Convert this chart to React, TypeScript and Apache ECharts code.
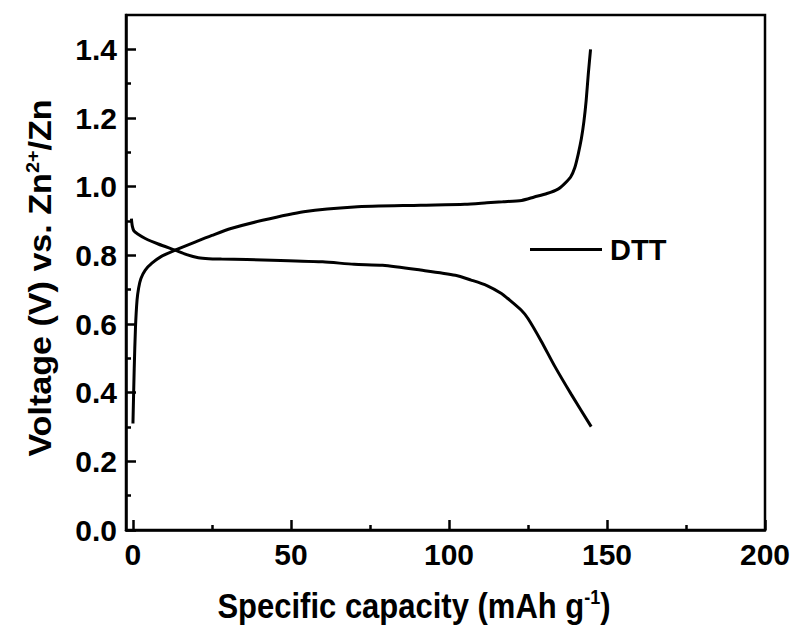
import React, { useEffect, useRef } from 'react';
import * as echarts from 'echarts';

// ---- data ----
const seriesName = 'DTT';

// charge curve: capacity (mAh g-1) and voltage (V)
const chargeCapacity = [0.0, 0.4, 0.8, 1.3, 1.8, 2.5, 3.9, 6, 9, 13.3, 20, 25, 31, 41, 54, 70, 91, 105, 112, 117, 123, 127, 131, 134.5, 136.6, 138.5, 139.8, 140.9, 141.9, 142.7, 143.4, 144.1, 144.8];
const chargeVoltage = [0.31, 0.47, 0.59, 0.67, 0.705, 0.732, 0.757, 0.777, 0.797, 0.815, 0.84, 0.858, 0.878, 0.902, 0.927, 0.941, 0.946, 0.949, 0.953, 0.956, 0.96, 0.97, 0.98, 0.993, 1.009, 1.028, 1.055, 1.095, 1.14, 1.19, 1.25, 1.33, 1.4];

// discharge curve
const dischargeCapacity = [-0.5, -0.2, 0.3, 1.5, 3.9, 8, 13.3, 17, 20.7, 24, 28, 44, 60, 70, 79, 91, 102, 107, 112, 116.6, 118.5, 122.9, 125, 129.2, 133.4, 138.7, 145];
const dischargeVoltage = [0.907, 0.885, 0.871, 0.862, 0.849, 0.833, 0.815, 0.802, 0.793, 0.79, 0.789, 0.786, 0.781, 0.774, 0.771, 0.757, 0.742, 0.728, 0.712, 0.689, 0.675, 0.64, 0.616, 0.55, 0.478, 0.395, 0.301];

const xTickValues = [0, 50, 100, 150, 200];
const xMinorTickValues = [25, 75, 125, 175];
const yTickValues = [0, 0.2, 0.4, 0.6, 0.8, 1.0, 1.2, 1.4];
const yMinorTickValues = [0.1, 0.3, 0.5, 0.7, 0.9, 1.1, 1.3];

const xTitle = '{a|Specific capacity (mAh g}{s|-1}{a|)}';
const yTitle = '{a|Voltage (V) vs. Zn}{s|2+}{a|/Zn}';

const FONT = '"Liberation Sans", Arial, Helvetica, sans-serif';

export default function App() {
  const ref = useRef<HTMLDivElement>(null);

  useEffect(() => {
    if (!ref.current) return;
    const chart = echarts.init(ref.current, undefined, { renderer: 'svg' });

    const axisLineStyle = { color: '#000', width: 2.5 };
    const labelStyle = { fontSize: 30, fontWeight: 'bold' as const, color: '#000', fontFamily: FONT };

    const richTitle = {
      a: { fontSize: 31, fontWeight: 'bold', fontFamily: FONT, fill: '#000', color: '#000' },
      s: { fontSize: 18, fontWeight: 'bold', fontFamily: FONT, fill: '#000', color: '#000', padding: [0, 0, 16, 0] },
    };

    chart.setOption({
      animation: false,
      backgroundColor: '#fff',
      grid: {
        left: 126,
        right: 32,
        top: 15,
        bottom: 100,
        show: true,
        borderColor: '#000',
        borderWidth: 2.5,
        backgroundColor: 'transparent',
      },
      legend: {
        data: [seriesName],
        left: 530,
        top: 235,
        padding: 0,
        icon: 'rect',
        itemWidth: 72,
        itemHeight: 3,
        textStyle: { fontSize: 29, fontWeight: 'bold', color: '#000', fontFamily: FONT, padding: [0, 0, 0, 3] },
      },
      xAxis: [
        {
          type: 'value',
          min: -2.2,
          max: 200,
          position: 'bottom',
          axisLine: { show: true, onZero: false, lineStyle: axisLineStyle },
          axisTick: { show: true, inside: true, length: 10, customValues: xTickValues, lineStyle: axisLineStyle },
          axisLabel: { ...labelStyle, margin: 9, customValues: xTickValues, formatter: (v: number) => String(v) },
          splitLine: { show: false },
        },
        {
          type: 'value',
          min: -2.2,
          max: 200,
          position: 'bottom',
          axisLine: { show: false, onZero: false },
          axisTick: { show: true, inside: true, length: 5, customValues: xMinorTickValues, lineStyle: axisLineStyle },
          axisLabel: { show: false },
          splitLine: { show: false },
        },
      ],
      yAxis: [
        {
          type: 'value',
          min: 0,
          max: 1.5,
          position: 'left',
          axisLine: { show: true, onZero: false, lineStyle: axisLineStyle },
          axisTick: { show: true, inside: true, length: 10, customValues: yTickValues, lineStyle: axisLineStyle },
          axisLabel: { ...labelStyle, margin: 9, customValues: yTickValues, formatter: (v: number) => v.toFixed(1) },
          splitLine: { show: false },
        },
        {
          type: 'value',
          min: 0,
          max: 1.5,
          position: 'left',
          axisLine: { show: false, onZero: false },
          axisTick: { show: true, inside: true, length: 5, customValues: yMinorTickValues, lineStyle: axisLineStyle },
          axisLabel: { show: false },
          splitLine: { show: false },
        },
      ],
      series: [
        {
          name: seriesName,
          type: 'line',
          xAxisIndex: 0,
          yAxisIndex: 0,
          data: chargeCapacity.map((c, i) => [c, chargeVoltage[i]]),
          showSymbol: false,
          smooth: 0.25,
          color: '#000',
          lineStyle: { color: '#000', width: 3 },
        },
        {
          name: seriesName,
          type: 'line',
          xAxisIndex: 0,
          yAxisIndex: 0,
          data: dischargeCapacity.map((c, i) => [c, dischargeVoltage[i]]),
          showSymbol: false,
          smooth: 0.25,
          color: '#000',
          lineStyle: { color: '#000', width: 3 },
        },
      ],
      graphic: [
        {
          type: 'text',
          x: 414,
          y: 606,
          scaleY: 1.13,
          style: {
            text: xTitle,
            rich: richTitle,
            align: 'center',
            verticalAlign: 'middle',
            fill: '#000',
          },
        },
        {
          type: 'text',
          x: 41,
          y: 278,
          rotation: Math.PI / 2,
          scaleX: 1.1,
          style: {
            text: yTitle,
            rich: richTitle,
            align: 'center',
            verticalAlign: 'middle',
            fill: '#000',
          },
        },
      ],
    });

    return () => chart.dispose();
  }, []);

  return <div ref={ref} style={{ position: 'fixed', left: 0, top: 0, width: 797, height: 630, background: '#fff' }} />;
}
